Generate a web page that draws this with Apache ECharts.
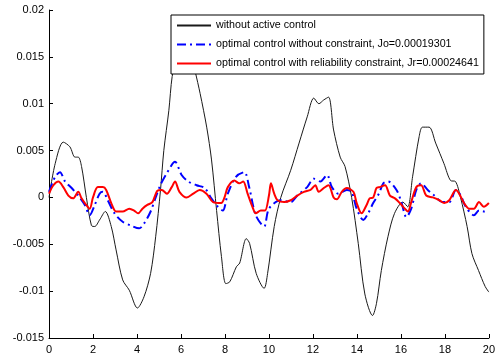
<!DOCTYPE html>
<html>
<head>
<meta charset="utf-8">
<script src="https://cdn.jsdelivr.net/npm/echarts@6/dist/echarts.min.js"></script>
<style>
  html, body { margin: 0; padding: 0; background: #fff; }
  #chart { width: 498px; height: 360px; }
</style>
</head>
<body>
<div id="chart"></div>
<script>
// time values (x) and responses (y)
const tBlack = [0, 0.28, 0.65, 0.95, 1.18, 1.33, 1.48, 1.7, 1.93, 2.08, 2.3, 2.56, 2.83, 3.05, 3.35, 3.65, 4.02, 4.32, 4.62, 4.85, 5.07, 5.22, 5.45, 5.6, 5.8, 6.05, 6.3, 6.5, 6.65, 6.87, 7.17, 7.39, 7.62, 7.84, 8.04, 8.22, 8.52, 8.67, 8.97, 9.12, 9.42, 9.78, 9.94, 10.24, 10.54, 10.99, 11.37, 11.74, 12.04, 12.27, 12.49, 12.71, 12.94, 13.24, 13.46, 13.76, 14.06, 14.36, 14.71, 14.89, 15.11, 15.41, 15.71, 16.09, 16.31, 16.53, 16.83, 16.98, 17.28, 17.58, 17.96, 18.26, 18.48, 18.71, 19.01, 19.23, 19.53, 19.83, 20];
const vBlack = [0, 0.0036, 0.0059, 0.0054, 0.0043, 0.0043, 0.0033, 0, -0.003, -0.0031, -0.0024, -0.0015, -0.0031, -0.0056, -0.0088, -0.0099, -0.0118, -0.0106, -0.0081, -0.0042, 0.0008, 0.005, 0.0093, 0.0129, 0.0148, 0.0162, 0.0163, 0.0148, 0.0134, 0.0111, 0.0075, 0.004, -0.0014, -0.0063, -0.0092, -0.009, -0.0074, -0.007, -0.0044, -0.0049, -0.0081, -0.0097, -0.0081, -0.0031, 0, 0.0029, 0.0058, 0.0086, 0.0106, 0.01, 0.0104, 0.0107, 0.0072, 0.0043, 0.0033, 0, -0.0049, -0.0103, -0.0126, -0.0113, -0.0078, -0.0042, -0.0017, -0.0005, -0.001, 0.0022, 0.0065, 0.0075, 0.0075, 0.0058, 0.0036, 0.0018, 0.0017, 0, -0.0031, -0.006, -0.0078, -0.0095, -0.0101];

const tBlue = [0, 0.28, 0.5, 0.73, 1.03, 1.33, 1.63, 1.85, 2.08, 2.3, 2.45, 2.67, 2.98, 3.35, 3.72, 4.1, 4.32, 4.62, 4.85, 5.06, 5.36, 5.73, 6.03, 6.33, 6.71, 7.08, 7.38, 7.68, 7.9, 8.13, 8.5, 8.88, 9.1, 9.4, 9.78, 10.0, 10.54, 10.99, 11.29, 11.74, 12.04, 12.34, 12.64, 12.86, 13.16, 13.54, 13.76, 13.99, 14.29, 14.51, 14.74, 15.0, 15.2, 15.42, 15.8, 16.02, 16.25, 16.47, 16.7, 16.92, 17.22, 17.52, 17.9, 18.2, 18.5, 18.72, 18.95, 19.32, 19.55, 19.77, 20];
const vBlue = [0.0006, 0.0022, 0.0027, 0.0017, 0.001, 0.0002, -0.0008, -0.0019, -0.0008, 0.0004, 0.0006, -0.0003, -0.0017, -0.0026, -0.003, -0.0033, -0.0028, -0.0015, 0, 0.0013, 0.0026, 0.0038, 0.0024, 0.0017, 0.0013, 0.001, -0.0001, -0.001, -0.0014, 0.0004, 0.0022, 0.0027, 0.0011, -0.0019, -0.0031, -0.0012, -0.0003, -0.0005, 0.0002, 0.0011, 0.002, 0.0017, 0.0024, 0.0011, 0.0004, 0.0008, 0.0006, -0.0012, -0.0024, -0.0017, -0.0006, 0.0004, 0.0015, 0.0017, 0.0008, -0.0005, -0.0021, -0.0012, 0.0008, 0.0015, 0.0008, 0.0002, -0.0005, -0.0005, 0.0008, 0.0002, -0.001, -0.0019, -0.0014, -0.0015, -0.0016];

const tRed = [0, 0.2, 0.43, 0.65, 0.88, 1.1, 1.33, 1.48, 1.63, 1.85, 2.0, 2.22, 2.45, 2.6, 2.83, 3.05, 3.35, 3.65, 3.87, 4.05, 4.25, 4.47, 4.7, 4.92, 5.13, 5.36, 5.58, 5.73, 5.93, 6.26, 6.56, 6.85, 7.16, 7.46, 7.83, 7.98, 8.13, 8.43, 8.65, 8.83, 9.03, 9.25, 9.4, 9.63, 9.82, 10.0, 10.09, 10.24, 10.39, 10.69, 10.99, 11.29, 11.59, 11.89, 12.11, 12.26, 12.49, 12.71, 12.94, 13.09, 13.31, 13.54, 13.84, 13.99, 14.21, 14.44, 14.58, 14.74, 14.89, 15.03, 15.28, 15.5, 15.73, 15.95, 16.18, 16.32, 16.47, 16.7, 16.92, 17.15, 17.45, 17.75, 17.97, 18.2, 18.5, 18.65, 18.87, 19.1, 19.32, 19.55, 19.77, 20];
const vRed = [0.0004, 0.0013, 0.0017, 0.0011, 0.0002, -0.0001, 0.0006, -0.0001, -0.0006, -0.0012, 0, 0.0011, 0.0011, 0.0008, -0.0006, -0.0015, -0.0015, -0.0012, -0.0014, -0.0017, -0.0012, -0.0008, -0.0005, 0.0007, 0.0008, 0.0004, 0.0011, 0.0017, 0.0006, 0, 0.0004, 0.0008, 0.0004, -0.0005, -0.0006, 0, 0.0011, 0.0018, 0.0015, 0.0017, 0.0004, -0.001, -0.0017, -0.0014, -0.0014, 0.0002, 0.0015, 0.0004, -0.0003, -0.0005, -0.0003, 0.0002, 0.0006, 0.0008, 0.0013, 0.0006, 0.001, 0.0013, 0, -0.0002, 0.0006, 0.001, 0.0006, -0.0006, -0.0017, -0.0008, -0.0001, 0, 0.001, 0.0011, 0.0013, 0.0002, -0.0001, -0.0006, -0.0012, -0.0015, -0.0005, 0.0011, 0.0013, 0.0002, 0, -0.0003, -0.0006, -0.0003, 0.0008, 0.0004, -0.0006, -0.0012, -0.0012, -0.0005, -0.001, -0.0006];

const names = [
  'without active control',
  'optimal control without constraint, Jo=0.00019301',
  'optimal control with reliability constraint, Jr=0.00024641'
];

const zip = (xs, ys) => xs.map((x, i) => [x, ys[i]]);

const chart = echarts.init(document.getElementById('chart'));

const axisCommon = {
  axisLine: { show: true, onZero: false, lineStyle: { color: '#000', width: 1 } },
  axisTick: { show: true, inside: true, length: 4, lineStyle: { color: '#000' } },
  axisLabel: { color: '#000', fontFamily: 'Liberation Sans', fontSize: 11 },
  splitLine: { show: false }
};

chart.setOption({
  backgroundColor: '#fff',
  animation: false,
  grid: { left: 49, right: 4, top: 10, bottom: 22 },
  legend: {
    orient: 'vertical',
    left: 171,
    top: 15,
    padding: [5, 5, 5, 5],
    itemWidth: 34,
    itemHeight: 10,
    itemGap: 8,
    backgroundColor: '#fff',
    borderColor: '#000',
    borderWidth: 1,
    itemStyle: { opacity: 0 },
    textStyle: { color: '#000', fontFamily: 'Liberation Sans', fontSize: 10.7 },
    data: names
  },
  xAxis: Object.assign({
    type: 'value',
    min: 0,
    max: 20,
    interval: 2
  }, axisCommon, { axisLabel: Object.assign({}, axisCommon.axisLabel, { margin: 6 }) }),
  yAxis: Object.assign({
    type: 'value',
    min: -0.015,
    max: 0.02,
    interval: 0.005
  }, axisCommon, { axisLabel: Object.assign({}, axisCommon.axisLabel, { margin: 5 }) }),
  series: [
    {
      name: names[0],
      type: 'line',
      data: zip(tBlack, vBlack),
      symbol: 'none',
      smooth: 0.3,
      lineStyle: { color: '#1a1a1a', width: 1 },
      itemStyle: { color: '#1a1a1a' }
    },
    {
      name: names[1],
      type: 'line',
      data: zip(tBlue, vBlue),
      symbol: 'none',
      smooth: 0.3,
      lineStyle: { color: '#0000ff', width: 2, type: [9, 4, 2, 4] },
      itemStyle: { color: '#0000ff' }
    },
    {
      name: names[2],
      type: 'line',
      data: zip(tRed, vRed),
      symbol: 'none',
      smooth: 0.3,
      lineStyle: { color: '#ff0000', width: 2 },
      itemStyle: { color: '#ff0000' }
    }
  ]
});
</script>
</body>
</html>
